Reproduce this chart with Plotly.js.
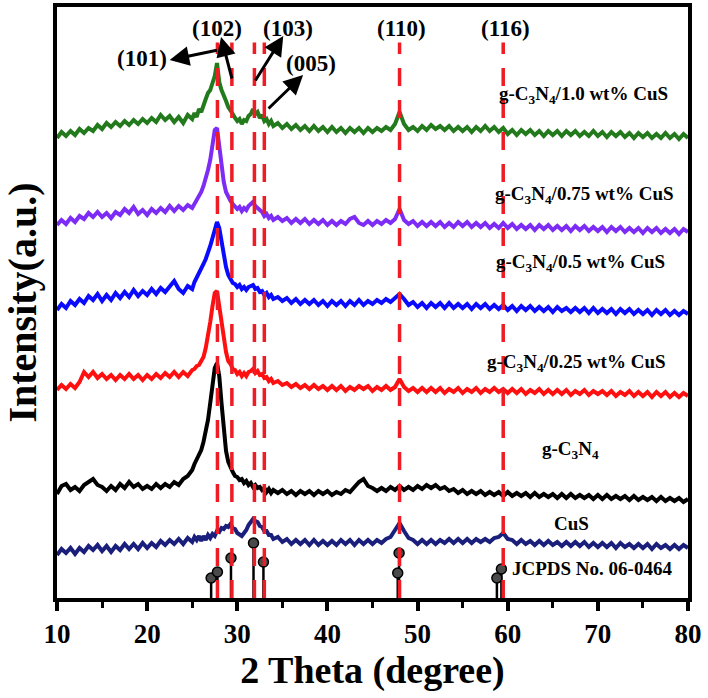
<!DOCTYPE html>
<html>
<head>
<meta charset="utf-8">
<script src="https://cdn.plot.ly/plotly-3.0.1.min.js"></script>
<style>html,body{margin:0;padding:0;background:#fff;}#chart{width:708px;height:698px;}</style>
</head>
<body>
<div id="chart"></div>
<script>
// 2-theta grid (degree)
const twoTheta = [
10,10.5,11,11.5,12,12.5,13,13.5,14,14.5,
15,15.5,16,16.5,17,17.5,18,18.5,19,19.5,
20,20.5,21,21.5,22,22.5,23,23.5,24,24.5,
25,
25.25,25.5,25.75,26,26.25,26.5,26.75,27,27.25,27.5,27.75,28,
28.25,28.5,28.75,29,29.25,29.5,29.75,30,30.25,30.5,30.75,31,
31.25,31.5,31.75,32,32.25,32.5,32.75,33,33.25,33.5,33.75,34,
34.5,35,35.5,36,36.5,37,37.5,38,38.5,39,39.5,40,
40.5,41,41.5,42,42.5,43,43.5,44,44.5,45,
45.5,46,46.5,47,47.5,48,48.5,49,49.5,50,
50.5,51,51.5,52,52.5,53,53.5,54,54.5,55,
55.5,56,56.5,57,57.5,58,58.5,59,59.5,60,
60.5,61,61.5,62,62.5,63,63.5,64,64.5,65,
65.5,66,66.5,67,67.5,68,68.5,69,69.5,70,
70.5,71,71.5,72,72.5,73,73.5,74,74.5,75,
75.5,76,76.5,77,77.5,78,78.5,79,79.5,80];

// stacked intensities (a.u.)
const cus10 = [
460,466,462,467,463,469,465,470,467,473,
469,475,471,476,472,477,473,478,474,479,
475,480,476,483,478,482,476,481,475,483,
479,
485,481,489,486,494,499,505,508,515,522,535,516,
508,501,497,491,488,484,480,477,479,474,478,477,
482,484,489,484,486,480,483,477,479,474,477,472,
475,470,474,469,473,468,472,467,472,467,471,466,
471,466,470,465,470,466,470,465,470,466,
470,467,471,468,474,486,474,468,471,467,
472,468,473,469,472,468,472,467,471,467,
471,466,471,467,472,467,471,466,470,464,
468,463,468,464,468,463,467,462,467,463,
467,462,467,463,467,462,466,462,467,462,
466,461,466,462,466,461,465,460,465,461,
465,460,464,460,465,460,464,459,464,460];

const cus075 = [
373,378,374,380,376,382,379,385,381,386,
381,385,380,386,383,389,385,391,384,388,
383,389,385,390,386,392,387,392,388,393,
390,
394,397,401,406,412,419,428,438,452,468,470,452,
433,416,406,401,397,394,392,389,391,387,390,388,
392,394,396,392,390,387,386,382,384,380,382,378,
381,377,380,375,379,375,379,374,378,374,378,373,
377,373,377,374,379,381,375,373,377,373,
377,374,378,375,379,389,378,374,377,372,
376,372,376,372,376,371,375,371,376,372,
376,371,375,371,375,370,374,370,375,370,
374,369,373,369,373,368,373,369,373,368,
372,368,372,367,372,368,372,367,371,367,
371,366,371,367,371,366,370,366,370,365,
370,366,370,365,369,365,369,364,369,366];

const cus05 = [
288,294,290,297,293,299,295,302,298,304,
297,303,298,305,300,306,301,308,302,307,
303,309,304,310,306,312,317,309,305,312,
309,
316,320,325,328,334,339,345,352,360,369,376,370,
356,342,331,323,319,315,314,311,313,309,311,308,
311,312,313,309,310,306,307,303,305,301,303,299,
301,297,300,295,299,294,298,294,298,293,297,292,
297,293,297,292,297,293,298,293,297,294,
298,295,299,296,300,304,299,293,296,291,
295,290,295,291,295,290,295,290,294,290,
294,289,294,290,294,289,293,289,293,288,
292,287,292,288,292,287,291,287,291,286,
291,287,290,286,290,286,290,285,290,285,
289,285,289,284,289,285,289,284,288,284,
288,283,288,284,288,283,287,283,287,284];

const cus025 = [
208,213,209,214,210,216,226,221,226,220,
224,219,223,218,223,219,224,219,223,218,
223,219,224,220,225,221,226,221,226,222,
228,
229,232,233,237,241,250,262,276,292,305,307,292,
276,260,246,237,234,229,228,224,226,222,225,222,
226,227,229,225,227,223,224,220,221,217,219,215,
217,213,215,211,214,210,213,209,213,209,212,208,
212,208,212,207,211,208,212,209,212,207,
211,208,212,208,211,219,211,207,210,206,
210,206,210,206,210,205,209,206,210,205,
209,206,210,205,209,206,210,206,209,205,
209,205,209,204,208,205,209,204,208,204,
208,204,208,203,207,204,208,203,207,204,
207,203,207,202,206,203,207,202,206,202,
206,201,206,202,206,201,205,201,205,202];

const gc3n4 = [
104,112,114,108,111,107,113,116,119,113,
111,107,112,108,114,110,116,111,114,109,
112,109,114,110,114,111,116,113,119,122,
128,
134,138,143,148,156,165,178,195,215,230,235,222,
195,165,147,136,130,126,122,121,118,119,115,117,
113,115,111,113,110,111,108,110,106,109,105,108,
105,108,104,107,103,107,104,107,103,107,104,107,
103,106,104,108,106,111,116,119,112,110,
107,110,107,111,108,112,108,111,108,112,
109,113,110,113,109,111,107,109,105,108,
104,107,104,107,103,106,103,106,102,106,
102,105,102,105,101,105,101,104,101,104,
100,104,100,104,100,103,100,103,99,103,
99,103,99,102,99,102,98,102,98,101,
98,101,97,101,97,100,97,100,96,99];

const cuS = [
43,49,45,50,44,50,46,52,48,53,
47,52,46,52,48,54,49,54,49,55,
50,55,51,57,53,58,54,59,54,60,
56,
61,58,62,57,62,58,63,60,64,62,67,66,
70,69,72,71,74,70,69,65,64,62,65,68,
73,77,79,77,76,72,71,67,67,63,63,59,
61,56,59,54,58,54,58,53,58,53,57,53,
57,53,58,54,58,53,58,54,58,54,
58,55,59,61,68,75,67,60,58,54,
58,54,58,54,58,55,59,55,59,55,
59,55,59,56,59,56,60,61,65,59,
58,54,58,54,57,53,57,53,57,53,
56,52,56,52,56,52,56,51,55,51,
55,51,55,50,55,51,54,50,54,50,
54,49,54,50,53,49,53,49,53,50];

// JCPDS No. 06-0464 reference lines
const jcpdsPos = [27.1, 27.8, 29.3, 31.8, 32.9, 47.8, 47.95, 58.8, 59.3];
const jcpdsInt = [20, 26, 40, 55, 36, 25, 45, 20, 29];

// highlighted planes (red dashed)
const planePos = [27.8, 29.4, 31.9, 33.0, 48.0, 59.5];
const planeLabels = ['(101)', '(102)', '(103)', '(005)', '(110)', '(116)'];

const seriesNames = ['g-C<sub>3</sub>N<sub>4</sub>/1.0 wt% CuS', 'g-C<sub>3</sub>N<sub>4</sub>/0.75 wt% CuS',
  'g-C<sub>3</sub>N<sub>4</sub>/0.5 wt% CuS', 'g-C<sub>3</sub>N<sub>4</sub>/0.25 wt% CuS',
  'g-C<sub>3</sub>N<sub>4</sub>', 'CuS'];
const seriesData = [cus10, cus075, cus05, cus025, gc3n4, cuS];
const seriesColors = ['#237a1c', '#7d2cf5', '#0a0aff', '#ff1010', '#000000', '#1b1f7c'];

const FONT = 'Liberation Serif, Times New Roman, serif';

const traces = seriesData.map((d, i) => ({
  type: 'scatter', mode: 'lines', x: twoTheta, y: d, name: seriesNames[i],
  line: {color: seriesColors[i], width: 4}, showlegend: false, hoverinfo: 'skip'
}));

traces.push({
  type: 'scatter', mode: 'markers', x: jcpdsPos, y: jcpdsInt, showlegend: false,
  marker: {size: 10, color: '#4a4a4a', line: {color: '#000', width: 1.5}},
  error_y: {type: 'data', symmetric: false, array: jcpdsPos.map(() => 0), arrayminus: jcpdsInt,
            color: '#000', thickness: 2.5, width: 0}
});

const shapes = planePos.map(p => ({
  type: 'line', xref: 'x', yref: 'paper', x0: p, x1: p, y0: 0, y1: 0.94,
  line: {color: '#ee1c24', width: 3.5, dash: '18px,14px'}, layer: 'above'
}));

const annotations = [];
// sample labels
const labelPos = [[68.4, 503], [68.5, 403], [68.1, 335], [67.6, 235], [67.0, 148], [67.1, 75]];
seriesNames.forEach((n, i) => annotations.push({
  x: labelPos[i][0], y: labelPos[i][1], xref: 'x', yref: 'y', text: n, showarrow: false,
  font: {family: FONT, size: 19, color: '#000', weight: 700}
}));
annotations.push({x: 69.4, y: 30, xref: 'x', yref: 'y', text: 'JCPDS No. 06-0464', showarrow: false,
  font: {family: FONT, size: 19, color: '#000', weight: 700}});
// plane labels
const planeLabelPos = [[19.4, 540], [27.8, 570], [35.6, 570], [38.2, 535], [48.2, 570], [59.7, 570]];
planeLabels.forEach((t, i) => annotations.push({
  x: planeLabelPos[i][0], y: planeLabelPos[i][1], xref: 'x', yref: 'y', text: t, showarrow: false,
  font: {family: FONT, size: 23, color: '#000', weight: 700}
}));
// arrows (tail -> head)
const arrows = [
  [[27.9, 548], [22.5, 538]],
  [[29.45, 518], [28.2, 561]],
  [[31.9, 516], [35.1, 562]],
  [[33.3, 488], [37.3, 523]]
];
arrows.forEach(a => annotations.push({
  x: a[1][0], y: a[1][1], ax: a[0][0], ay: a[0][1], xref: 'x', yref: 'y', axref: 'x', ayref: 'y',
  text: '', showarrow: true, arrowhead: 2, arrowsize: 1.3, arrowwidth: 3, arrowcolor: '#000', standoff: 0
}));

const layout = {
  width: 708, height: 698,
  margin: {l: 57, r: 20, t: 7, b: 100, pad: 0},
  paper_bgcolor: '#fff', plot_bgcolor: '#fff',
  font: {family: FONT, color: '#000', weight: 700},
  showlegend: false,
  xaxis: {
    range: [10, 80], dtick: 10, tick0: 10, showgrid: false, zeroline: false,
    showline: true, linewidth: 4, linecolor: '#000', mirror: true,
    ticks: 'outside', ticklen: 9, tickwidth: 4, tickcolor: '#000',
    minor: {dtick: 5, ticks: 'outside', ticklen: 6, tickwidth: 3, tickcolor: '#000', showgrid: false},
    tickfont: {family: FONT, size: 27, color: '#000', weight: 700},
    title: {text: '2 Theta (degree)', font: {family: FONT, size: 38, color: '#000', weight: 700}, standoff: 8},
    automargin: false, fixedrange: true
  },
  yaxis: {
    range: [0, 591], showgrid: false, zeroline: false, showticklabels: false, ticks: '',
    showline: true, linewidth: 4, linecolor: '#000', mirror: true,
    title: {text: 'Intensity(a.u.)', font: {family: FONT, size: 40, color: '#000', weight: 700}, standoff: 6},
    automargin: false, fixedrange: true
  },
  shapes: shapes,
  annotations: annotations
};

Plotly.newPlot('chart', traces, layout, {staticPlot: true, displayModeBar: false});
</script>
</body>
</html>
